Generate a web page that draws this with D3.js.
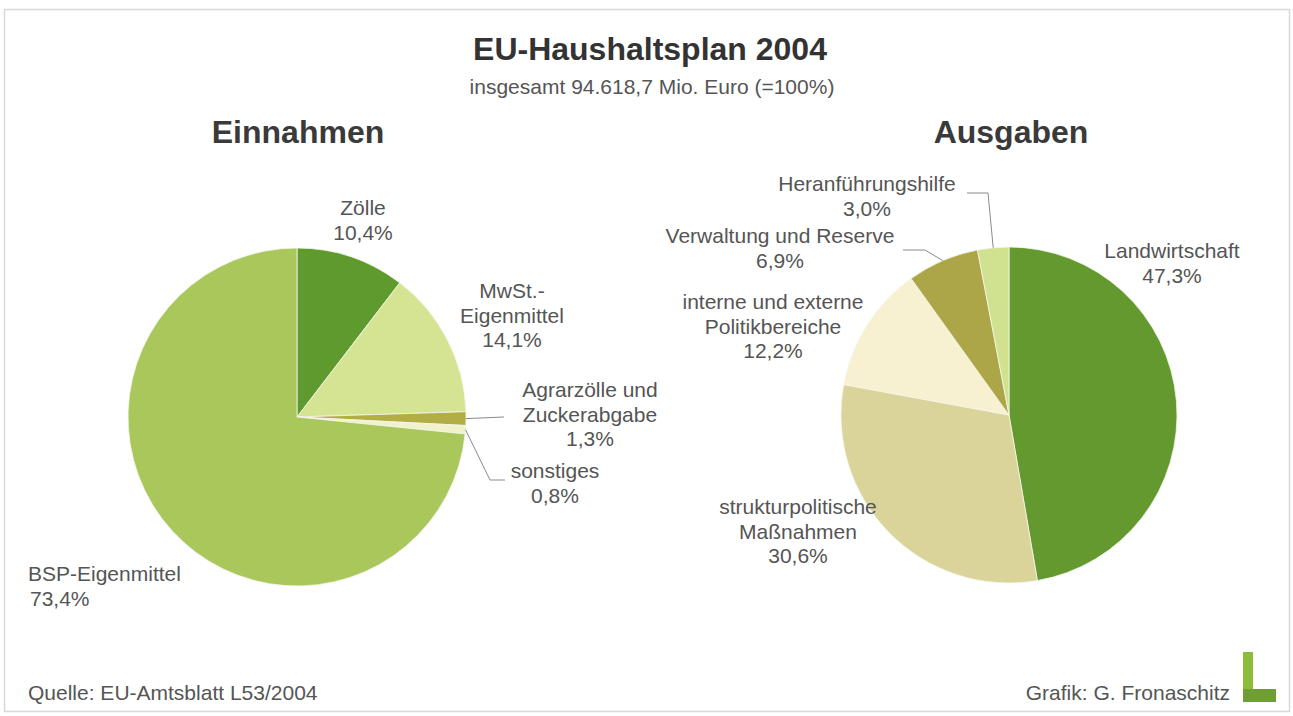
<!DOCTYPE html>
<html>
<head>
<meta charset="utf-8">
<script src="https://cdn.jsdelivr.net/npm/d3@7"></script>
<style>
  body { margin: 0; background: #fff; }
  svg { display: block; }
  text { font-family: "Liberation Sans", Arial, sans-serif; }
</style>
</head>
<body>
<svg id="chart" width="1293" height="716"></svg>
<script>
// Einnahmen (left pie)
var einnahmenNamen = [["Zölle"], ["MwSt.-", "Eigenmittel"], ["Agrarzölle und", "Zuckerabgabe"], ["sonstiges"], ["BSP-Eigenmittel"]];
var einnahmenWerte = [10.4, 14.1, 1.3, 0.8, 73.4];

// Ausgaben (right pie)
var ausgabenNamen = [["Landwirtschaft"], ["strukturpolitische", "Maßnahmen"], ["interne und externe", "Politikbereiche"], ["Verwaltung und Reserve"], ["Heranführungshilfe"]];
var ausgabenWerte = [47.3, 30.6, 12.2, 6.9, 3.0];

var einnahmenFarben = ["#5f9a2e", "#d5e493", "#b3ad45", "#f1f1cb", "#a9c75b"];
var ausgabenFarben = ["#63992f", "#dad49b", "#f7f0d1", "#aca648", "#d0e290"];

var svg = d3.select("#chart");
var de = d3.formatLocale({ decimal: ",", thousands: ".", grouping: [3], currency: ["", " €"] });
var pct = function (v) { return de.format(".1f")(v) + "%"; };

// frame
svg.append("rect")
  .attr("x", 4.5).attr("y", 9.5)
  .attr("width", 1285).attr("height", 702)
  .attr("fill", "none")
  .attr("stroke", "#d9d9d9")
  .attr("stroke-width", 1.5);

svg.append("text")
  .attr("x", 650).attr("y", 60)
  .attr("text-anchor", "middle")
  .attr("font-size", 32).attr("font-weight", "bold")
  .attr("fill", "#333")
  .text("EU-Haushaltsplan 2004");

svg.append("text")
  .attr("x", 652).attr("y", 94)
  .attr("text-anchor", "middle")
  .attr("font-size", 21)
  .attr("fill", "#555")
  .text("insgesamt 94.618,7 Mio. Euro (=100%)");

svg.append("text")
  .attr("x", 298).attr("y", 143)
  .attr("text-anchor", "middle")
  .attr("font-size", 32).attr("font-weight", "bold")
  .attr("fill", "#3a3a3a")
  .text("Einnahmen");

svg.append("text")
  .attr("x", 1011).attr("y", 143)
  .attr("text-anchor", "middle")
  .attr("font-size", 32).attr("font-weight", "bold")
  .attr("fill", "#3a3a3a")
  .text("Ausgaben");

function drawPie(cx, cy, r, werte, namen, farben, labelPos, leaders) {
  var pie = d3.pie().sort(null).value(function (d) { return d; });
  var arc = d3.arc().innerRadius(0).outerRadius(r);
  var edge = d3.arc().innerRadius(r).outerRadius(r);
  var arcs = pie(werte);

  var g = svg.append("g").attr("transform", "translate(" + cx + "," + cy + ")");
  g.selectAll("path")
    .data(arcs)
    .enter().append("path")
    .attr("d", arc)
    .attr("fill", function (d, i) { return farben[i]; })
    .attr("stroke", "#f4f6ea")
    .attr("stroke-width", 0.8);

  // leader lines: from the slice edge to a bend point, then on to the label
  leaders.forEach(function (l) {
    var p = edge.centroid(arcs[l.i]);
    var pts = [[cx + p[0], cy + p[1]]].concat(l.pts);
    svg.append("path")
      .attr("d", d3.line()(pts))
      .attr("fill", "none")
      .attr("stroke", "#8a8a8a")
      .attr("stroke-width", 1);
  });

  arcs.forEach(function (d, i) {
    var lp = labelPos[i];
    var lines = namen[i].concat([pct(werte[i])]);
    var t = svg.append("text")
      .attr("font-size", 21)
      .attr("fill", "#555")
      .attr("text-anchor", lp.anchor || "middle");
    lines.forEach(function (s, k) {
      t.append("tspan")
        .attr("x", lp.x + (k == lines.length - 1 && lp.dx ? lp.dx : 0))
        .attr("y", lp.y + k * 24.5)
        .text(s);
    });
  });
}

drawPie(297, 417, 169, einnahmenWerte, einnahmenNamen, einnahmenFarben,
  [
    { x: 363, y: 215 },
    { x: 512, y: 298 },
    { x: 590, y: 397 },
    { x: 555, y: 478 },
    { x: 28, y: 581, anchor: "start", dx: 2 }
  ],
  [
    { i: 2, pts: [[504, 417]] },
    { i: 3, pts: [[490, 480], [505, 480]] }
  ]);

drawPie(1009, 415, 168, ausgabenWerte, ausgabenNamen, ausgabenFarben,
  [
    { x: 1172, y: 258 },
    { x: 798, y: 514 },
    { x: 773, y: 309 },
    { x: 780, y: 243 },
    { x: 867, y: 191 }
  ],
  [
    { i: 3, pts: [[925, 250], [903, 250]] },
    { i: 4, pts: [[988, 193], [967, 193]] }
  ]);

svg.append("text")
  .attr("x", 28).attr("y", 700)
  .attr("font-size", 21)
  .attr("fill", "#555")
  .text("Quelle: EU-Amtsblatt L53/2004");

svg.append("text")
  .attr("x", 1230).attr("y", 700)
  .attr("text-anchor", "end")
  .attr("font-size", 21)
  .attr("fill", "#555")
  .text("Grafik: G. Fronaschitz");

// small green "L" logo
var logo = svg.append("g");
logo.append("rect").attr("x", 1243).attr("y", 652).attr("width", 10).attr("height", 50).attr("fill", "#8dbb3a");
logo.append("rect").attr("x", 1243).attr("y", 689).attr("width", 33).attr("height", 13).attr("fill", "#6f9e34");
</script>
</body>
</html>
